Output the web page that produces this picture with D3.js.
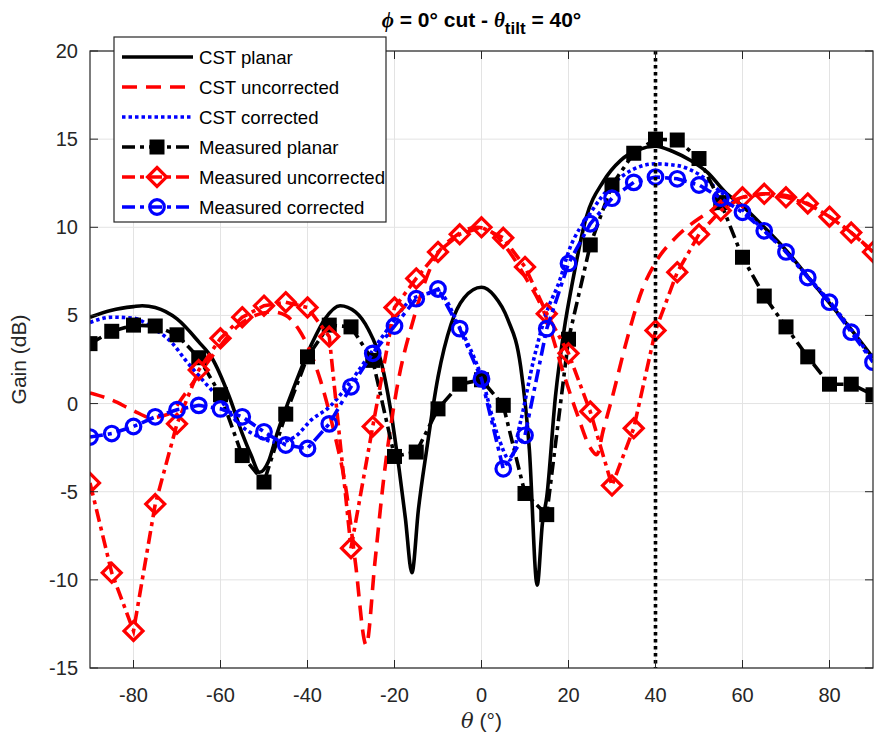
<!DOCTYPE html>
<html>
<head>
<meta charset="utf-8">
<title>Gain cut</title>
<style>
  body { margin: 0; background: #fff; }
  text { font-family: "Liberation Sans", Arial, sans-serif; }
</style>
</head>
<body>
<div id="chart"></div>
<script src="https://cdn.jsdelivr.net/npm/d3@7"></script>
<script>
// measured data, every 5 deg from -90 to 90
const measTheta = d3.range(-90, 91, 5);
const measPlanar = [3.4, 4.1, 4.45, 4.4, 3.9, 2.6, 0.5, -2.95, -4.45, -0.6, 2.65, 4.45, 4.35, 2.45, -3.0, -2.75, -0.3, 1.1, 1.35, -0.1, -5.1, -6.3, 3.65, 9.0, 12.4, 14.2, 15.0, 14.95, 13.9, 11.4, 8.3, 6.1, 4.35, 2.65, 1.1, 1.1, 0.5];
const measUncorr = [-4.5, -9.6, -12.9, -5.7, -1.15, 1.9, 3.7, 4.9, 5.55, 5.75, 5.45, 3.8, -8.2, -1.3, 5.45, 7.1, 8.6, 9.6, 10.0, 9.4, 7.75, 5.1, 2.85, -0.45, -4.65, -1.4, 4.15, 7.45, 9.6, 10.95, 11.7, 11.9, 11.7, 11.35, 10.6, 9.7, 8.6];
const measCorr = [-1.9, -1.7, -1.3, -0.75, -0.35, -0.1, -0.3, -0.75, -1.6, -2.35, -2.55, -1.15, 0.95, 2.85, 4.4, 5.95, 6.5, 4.25, 1.4, -3.7, -1.8, 4.25, 7.95, 10.2, 11.65, 12.55, 12.85, 12.75, 12.4, 11.65, 10.85, 9.8, 8.6, 7.15, 5.75, 4.05, 2.35];

// simulated curves
const cstPlanarTheta = [-90, -85, -80, -78, -75, -70, -65, -62, -58, -55, -53, -51, -49, -47, -43, -39, -36, -32.5, -29, -26, -23, -21, -19, -17.5, -16, -14.5, -12.6, -10, -7, -4, 0, 3, 6, 9, 11, 12.8, 14, 15, 17, 19, 21, 24, 28, 32, 36, 40, 44, 48, 52, 56, 60, 65, 70, 75, 80, 85, 90];
const cstPlanar = [4.9, 5.3, 5.5, 5.55, 5.45, 4.8, 3.5, 2.6, 0.4, -1.7, -2.9, -3.9, -3.3, -1.7, 1.0, 3.4, 4.8, 5.55, 5.2, 4.2, 2.3, -0.2, -3.6, -6.5, -9.6, -6.0, -2.6, 1.5, 4.5, 6.0, 6.6, 6.1, 4.8, 2.1, -2.6, -10.3, -6.8, -5.3, 0.4, 4.2, 7.0, 10.5, 12.6, 13.8, 14.4, 14.6, 14.3, 13.8, 13.1, 12.0, 11.2, 10.0, 8.7, 7.2, 5.7, 4.2, 2.6];

const cstUncorrTheta = [-90, -85, -80, -76, -72, -68, -64, -60, -56, -52, -48, -45, -42, -40, -37, -34, -31, -29, -26.5, -24.5, -22.5, -19.5, -15.5, -11, -6, -1, 3, 7, 10, 15, 19, 22, 25, 26.5, 28, 30, 33.4, 37, 40, 45, 50, 55, 60, 65, 70, 75, 80, 85, 90];
const cstUncorr = [0.6, 0.2, -0.4, -0.8, -0.6, 0.6, 2.0, 3.3, 4.4, 5.0, 5.2, 5.0, 4.2, 3.3, 1.3, -1.5, -5.1, -9.0, -13.7, -9.0, -4.3, 0.8, 4.9, 8.1, 9.5, 10.0, 9.6, 8.4, 7.2, 4.8, 1.6, -0.6, -2.5, -2.9, -1.5, 0.3, 3.6, 6.5, 8.0, 9.5, 10.5, 11.2, 11.7, 11.9, 11.8, 11.3, 10.6, 9.7, 8.6];

const cstCorrTheta = [-90, -85, -80, -76, -71, -68, -64, -60, -56, -51, -47, -43, -39, -35, -31, -25.5, -21, -15.5, -10, -5, 0, 4, 6.5, 9, 12, 15, 18, 20, 25, 30, 35, 40, 45, 50, 55, 60, 65, 70, 75, 80, 85, 90];
const cstCorr = [4.6, 4.9, 4.85, 4.35, 3.4, 2.45, 1.3, 0.2, -1.1, -1.9, -2.2, -1.9, -0.9, -0.2, 0.95, 2.85, 4.4, 6.0, 6.3, 4.3, 1.5, -2.0, -3.2, -1.0, 2.5, 5.2, 7.0, 8.6, 10.8, 12.4, 13.3, 13.6, 13.5, 13.0, 12.0, 11.0, 9.8, 8.6, 7.2, 5.8, 4.2, 2.4];

const xTicks = [-80, -60, -40, -20, 0, 20, 40, 60, 80];
const yTicks = [-15, -10, -5, 0, 5, 10, 15, 20];
const tiltAngle = 40;

const W = 874, H = 747;
const m = { left: 90, right: 1, top: 51, bottom: 79 };

const svg = d3.select("#chart").append("svg")
  .attr("width", W).attr("height", H);

const x = d3.scaleLinear().domain([-90, 90]).range([m.left, W - m.right]);
const y = d3.scaleLinear().domain([-15, 20]).range([H - m.bottom, m.top]);

// grid
svg.append("g").selectAll("line").data(xTicks).join("line")
  .attr("x1", d => x(d)).attr("x2", d => x(d))
  .attr("y1", y(-15)).attr("y2", y(20))
  .attr("stroke", "#e3e3e3").attr("stroke-width", 1);
svg.append("g").selectAll("line").data(yTicks).join("line")
  .attr("x1", x(-90)).attr("x2", x(90))
  .attr("y1", d => y(d)).attr("y2", d => y(d))
  .attr("stroke", "#e3e3e3").attr("stroke-width", 1);

svg.append("clipPath").attr("id", "clip").append("rect")
  .attr("x", x(-90)).attr("y", y(20))
  .attr("width", x(90) - x(-90)).attr("height", y(-15) - y(20));

const plot = svg.append("g").attr("clip-path", "url(#clip)");

const smooth = d3.line().x(d => x(d[0])).y(d => y(d[1])).curve(d3.curveMonotoneX);
const straight = d3.line().x(d => x(d[0])).y(d => y(d[1]));

const LW = 3.6;
const series = [
  { name: "CST planar", th: cstPlanarTheta, g: cstPlanar, color: "#000", dash: null, gen: smooth },
  { name: "CST uncorrected", th: cstUncorrTheta, g: cstUncorr, color: "#ff0000", dash: "15,9", gen: smooth },
  { name: "CST corrected", th: cstCorrTheta, g: cstCorr, color: "#0000ff", dash: "3.5,3", gen: smooth },
  { name: "Measured planar", th: measTheta, g: measPlanar, color: "#000", dash: "13,5,4,5", gen: straight, marker: "square" },
  { name: "Measured uncorrected", th: measTheta, g: measUncorr, color: "#ff0000", dash: "13,5,4,5", gen: straight, marker: "diamond" },
  { name: "Measured corrected", th: measTheta, g: measCorr, color: "#0000ff", dash: "13,5,4,5", gen: straight, marker: "circle" }
];

function drawMarker(sel, type, color) {
  if (type === "square") {
    sel.append("rect").attr("x", -6.5).attr("y", -6.5).attr("width", 13).attr("height", 13)
      .attr("fill", color).attr("stroke", color).attr("stroke-width", 2);
  } else if (type === "diamond") {
    sel.append("path").attr("d", "M0,-9.5L9.5,0L0,9.5L-9.5,0Z")
      .attr("fill", "none").attr("stroke", color).attr("stroke-width", 3.2);
  } else if (type === "circle") {
    sel.append("circle").attr("r", 7.3)
      .attr("fill", "none").attr("stroke", color).attr("stroke-width", 3.2);
  }
}

series.forEach(s => {
  const pts = s.th.map((t, i) => [t, s.g[i]]);
  plot.append("path")
    .attr("d", s.gen(pts))
    .attr("fill", "none")
    .attr("stroke", s.color)
    .attr("stroke-width", LW)
    .attr("stroke-dasharray", s.dash);
  if (s.marker) {
    plot.append("g").selectAll("g").data(pts).join("g")
      .attr("transform", d => `translate(${x(d[0])},${y(d[1])})`)
      .each(function () { drawMarker(d3.select(this), s.marker, s.color); });
  }
});

// tilt marker line
plot.append("line")
  .attr("x1", x(tiltAngle)).attr("x2", x(tiltAngle))
  .attr("y1", y(20)).attr("y2", y(-15))
  .attr("stroke", "#000").attr("stroke-width", 3.6)
  .attr("stroke-dasharray", "3.5,3.5");

// axes box with inward ticks
const axisColor = "#262626";
svg.append("rect")
  .attr("x", x(-90)).attr("y", y(20))
  .attr("width", x(90) - x(-90)).attr("height", y(-15) - y(20))
  .attr("fill", "none").attr("stroke", axisColor).attr("stroke-width", 1.2);

const tk = 8;
svg.append("g").selectAll("line").data(xTicks.flatMap(d => [[d, y(-15), -tk], [d, y(20), tk]])).join("line")
  .attr("x1", d => x(d[0])).attr("x2", d => x(d[0]))
  .attr("y1", d => d[1]).attr("y2", d => d[1] + d[2])
  .attr("stroke", axisColor);
svg.append("g").selectAll("line").data(yTicks.flatMap(d => [[d, x(-90), tk], [d, x(90), -tk]])).join("line")
  .attr("y1", d => y(d[0])).attr("y2", d => y(d[0]))
  .attr("x1", d => d[1]).attr("x2", d => d[1] + d[2])
  .attr("stroke", axisColor);

svg.append("g").selectAll("text").data(xTicks).join("text")
  .attr("x", d => x(d)).attr("y", y(-15) + 34)
  .attr("text-anchor", "middle").attr("font-size", 20).attr("fill", axisColor)
  .text(d => d);
svg.append("g").selectAll("text").data(yTicks).join("text")
  .attr("x", x(-90) - 12).attr("y", d => y(d) + 7)
  .attr("text-anchor", "end").attr("font-size", 20).attr("fill", axisColor)
  .text(d => d);

// axis labels
const xl = svg.append("text")
  .attr("x", (x(-90) + x(90)) / 2).attr("y", H - 19)
  .attr("text-anchor", "middle").attr("font-size", 21).attr("fill", axisColor);
xl.append("tspan").attr("font-family", "'DejaVu Serif', 'Liberation Serif', serif").attr("font-style", "italic").text("θ");
xl.append("tspan").text(" (°)");

svg.append("text")
  .attr("transform", `translate(26,${(y(20) + y(-15)) / 2}) rotate(-90)`)
  .attr("text-anchor", "middle").attr("font-size", 21).attr("fill", axisColor)
  .text("Gain (dB)");

// title
const title = svg.append("text")
  .attr("x", (x(-90) + x(90)) / 2).attr("y", 27)
  .attr("text-anchor", "middle").attr("font-size", 21).attr("font-weight", "bold").attr("fill", "#000");
title.append("tspan").attr("font-style", "italic").attr("font-family", "'Liberation Serif', serif").text("ϕ");
title.append("tspan").text(" = 0° cut - ");
title.append("tspan").attr("font-style", "italic").attr("font-family", "'Liberation Serif', serif").text("θ");
title.append("tspan").attr("dy", 7).attr("font-size", 17).text("tilt");
title.append("tspan").attr("dy", -7).text(" = " + tiltAngle + "°");

// legend
const lg = svg.append("g").attr("transform", "translate(114,37)");
lg.append("rect").attr("width", 272).attr("height", 185)
  .attr("fill", "#fff").attr("stroke", axisColor).attr("stroke-width", 1.2);
series.forEach((s, i) => {
  const row = lg.append("g").attr("transform", `translate(0,${20 + i * 30})`);
  row.append("line").attr("x1", 8).attr("x2", 79).attr("y1", 0).attr("y2", 0)
    .attr("stroke", s.color).attr("stroke-width", LW).attr("stroke-dasharray", s.dash);
  if (s.marker) {
    const mk = row.append("g").attr("transform", "translate(43,0)");
    drawMarker(mk, s.marker, s.color);
  }
  row.append("text").attr("x", 85).attr("y", 7)
    .attr("font-size", 18.6).attr("fill", "#000").text(s.name);
});
</script>
</body>
</html>
